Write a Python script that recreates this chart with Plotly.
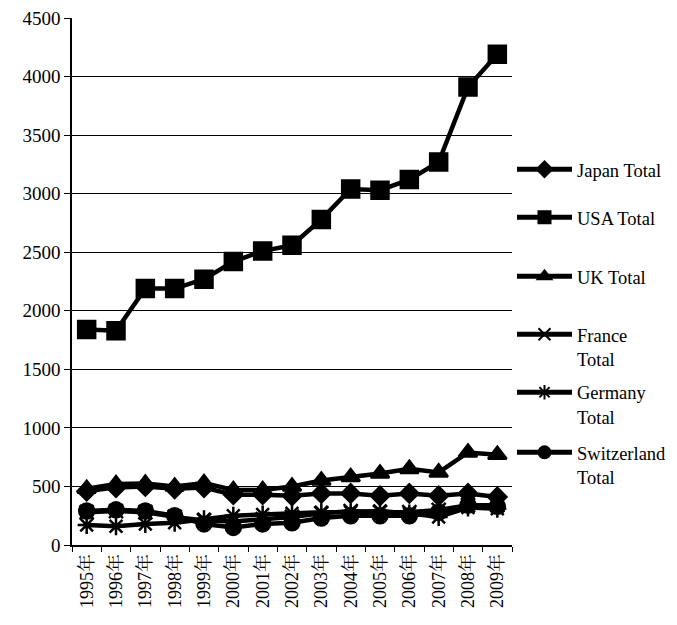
import plotly.graph_objects as go

years = ["1995年", "1996年", "1997年", "1998年", "1999年", "2000年", "2001年", "2002年",
         "2003年", "2004年", "2005年", "2006年", "2007年", "2008年", "2009年"]

japan = [460, 490, 500, 480, 490, 430, 430, 420, 440, 440, 420, 440, 420, 440, 410]
usa = [1840, 1830, 2190, 2190, 2270, 2420, 2510, 2560, 2780, 3040, 3030, 3120, 3270, 3910, 4190]
uk = [480, 520, 525, 500, 530, 470, 470, 500, 550, 580, 610, 650, 620, 790, 770]
france = [280, 290, 280, 240, 210, 200, 220, 240, 270, 290, 280, 280, 300, 340, 340]
germany = [170, 160, 180, 190, 220, 250, 260, 270, 280, 280, 290, 270, 240, 320, 310]
switzerland = [290, 300, 290, 250, 180, 150, 180, 190, 230, 250, 250, 250, 280, 340, 330]

series = [
    ("Japan Total", japan, "diamond", 14),
    ("USA Total", usa, "square", 17),
    ("UK Total", uk, "triangle-up", 16),
    ("France<br>Total", france, "x-thin-open", 14),
    ("Germany<br>Total", germany, "asterisk-open", 15),
    ("Switzerland<br>Total", switzerland, "circle", 15),
]

FONT = "Liberation Serif, Noto Serif CJK SC, Noto Sans CJK SC, serif"

# legend slot positions (paper fraction, top of each legend box)
legend_tops = [0.748, 0.657, 0.545, 0.435, 0.325, 0.211]

fig = go.Figure()
layout_legends = {}
for i, (name, vals, sym, size) in enumerate(series):
    lg = "legend" if i == 0 else f"legend{i + 1}"
    fig.add_trace(go.Scatter(
        x=years, y=vals, name=name, mode="lines+markers",
        line=dict(color="black", width=4.5),
        marker=dict(symbol=sym, size=size, color="black",
                    line=dict(color="black", width=2.5)),
        legend=lg,
    ))
    layout_legends[lg] = dict(
        x=1.0, y=legend_tops[i], xanchor="left", yanchor="top",
        font=dict(family=FONT, size=18.5, color="black"),
        bgcolor="rgba(0,0,0,0)", itemwidth=55, valign="top",
        itemsizing="constant",
    )

fig.update_layout(
    width=677, height=625,
    margin=dict(l=72, r=165, t=18, b=80, autoexpand=False),
    paper_bgcolor="white", plot_bgcolor="white",
    font=dict(family=FONT, color="black", size=16),
    showlegend=True,
    **layout_legends,
)
fig.update_xaxes(
    type="category", showline=True, linecolor="black", linewidth=1.5,
    ticks="outside", tickson="boundaries", ticklen=5, tickcolor="black",
    tickangle=-90, tickfont=dict(family=FONT, size=18, color="black"),
    showgrid=False, range=[-0.5, 14.5],
)
fig.update_yaxes(
    range=[0, 4500], dtick=500, showline=True, linecolor="black", linewidth=1.5,
    ticks="outside", ticklen=6, tickcolor="black",
    showgrid=True, gridcolor="black", gridwidth=1.3,
    tickfont=dict(family=FONT, size=19, color="black"),
    zeroline=False,
)

fig.write_html("out.html")
